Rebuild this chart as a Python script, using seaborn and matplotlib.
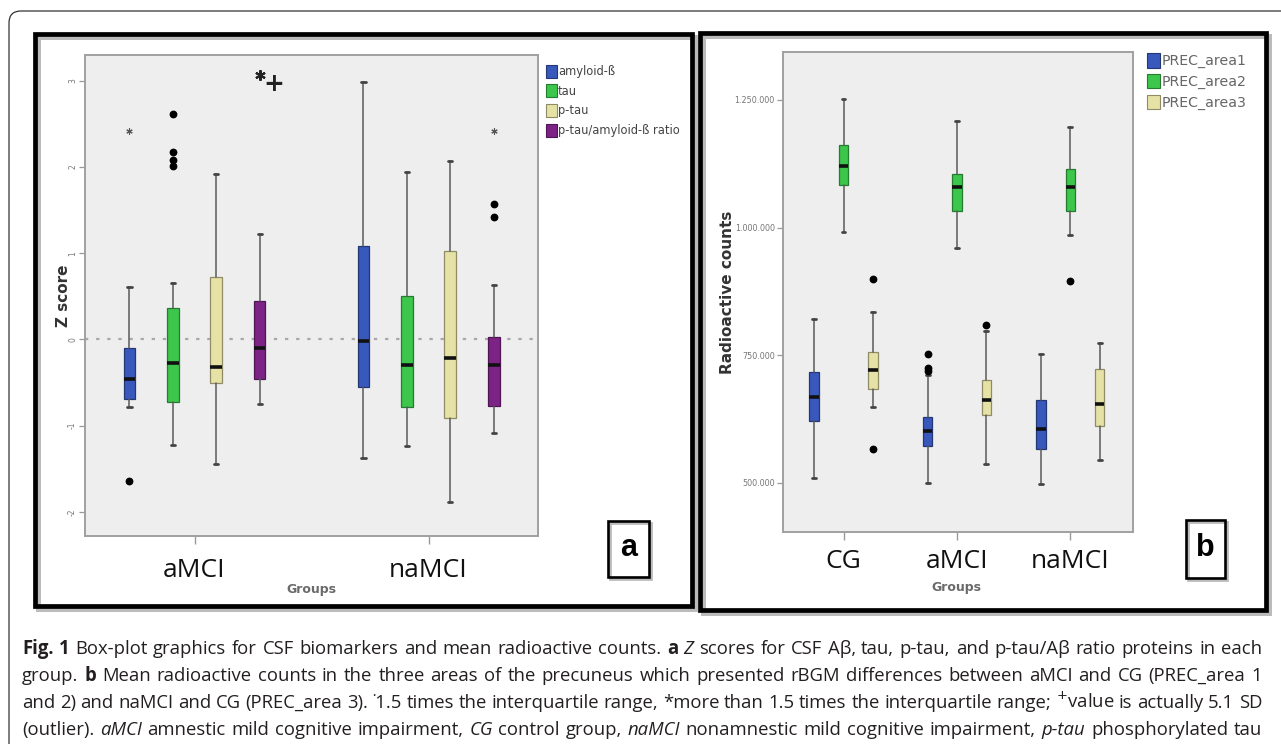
import re
import matplotlib
matplotlib.use("Agg")
import matplotlib.pyplot as plt
from matplotlib.patches import Rectangle, FancyBboxPatch
import matplotlib.colors as mcolors
import seaborn as sns

# ---------------- data : panel a (Z scores) ----------------
groups_a = ["aMCI", "naMCI"]
series_a = ["amyloid-ß", "tau", "p-tau", "p-tau/amyloid-ß ratio"]
# (lower whisker, Q1, median, Q3, upper whisker) for aMCI, naMCI
amyloid_box = [(-0.78, -0.69, -0.46, -0.10, 0.61), (-1.37, -0.55, -0.02, 1.08, 2.99)]
tau_box = [(-1.22, -0.72, -0.27, 0.37, 0.65), (-1.24, -0.78, -0.30, 0.50, 1.94)]
ptau_box = [(-1.44, -0.51, -0.32, 0.72, 1.92), (-1.89, -0.91, -0.21, 1.03, 2.07)]
ratio_box = [(-0.75, -0.46, -0.10, 0.45, 1.22), (-1.09, -0.77, -0.30, 0.03, 0.63)]
# outliers (circles)
amyloid_out = [[-1.64], []]
tau_out = [[2.62, 2.17, 2.08, 2.01], []]
ptau_out = [[], []]
ratio_out = [[], [1.57, 1.42]]
# extreme values (asterisks)
amyloid_ext = [[2.42], []]
tau_ext = [[], []]
ptau_ext = [[], []]
ratio_ext = [[], [2.42]]
# aMCI ratio extreme value drawn at the top edge (actually 5.1 SD)
ratio_clipped = [3.07, None]
yticks_a = [-2, -1, 0, 1, 2, 3]
yticklabels_a = ["-2", "-1", "0", "1", "2", "3"]

# ---------------- data : panel b (radioactive counts) ----------------
groups_b = ["CG", "aMCI", "naMCI"]
series_b = ["PREC_area1", "PREC_area2", "PREC_area3"]
area1_box = [(508600, 621500, 668500, 716400, 820800),
             (498800, 572500, 601300, 629300, 712000),
             (496900, 566000, 605200, 662100, 752200)]
area2_box = [(990700, 1084000, 1121200, 1161800, 1252000),
             (959400, 1033100, 1078900, 1105000, 1209400),
             (985400, 1033100, 1080100, 1114200, 1197700)]
area3_box = [(647800, 683000, 720300, 755600, 834000),
             (536600, 632700, 662100, 701300, 797000),
             (544500, 611100, 653600, 722300, 774400)]
area1_out = [[], [751600, 725400, 719500], []]
area2_out = [[], [], [895900]]
area3_out = [[898600, 566000], [809000], []]
yticks_b = [500000, 750000, 1000000, 1250000]
yticklabels_b = ["500.000", "750.000", "1.000.000", "1.250.000"]

colors_a = ["#3858BC", "#3CC64B", "#E6E1A4", "#7D2386"]
colors_b = ["#3858BC", "#3CC64B", "#E6E1A4"]

caption_lines = [
    "{b:Fig. 1} Box-plot graphics for CSF biomarkers and mean radioactive counts. {b:a} {i:Z} scores for CSF Aβ, tau, p-tau, and p-tau/Aβ ratio proteins in each",
    "group. {b:b} Mean radioactive counts in the three areas of the precuneus which presented rBGM differences between aMCI and CG (PREC_area 1",
    "and 2) and naMCI and CG (PREC_area 3). ˙1.5 times the interquartile range, *more than 1.5 times the interquartile range; $^{+}$value is actually 5.1 SD",
    "(outlier). {i:aMCI} amnestic mild cognitive impairment, {i:CG} control group, {i:naMCI} nonamnestic mild cognitive impairment, {i:p-tau} phosphorylated tau",
]

# ---------------- figure ----------------
sns.set_theme(style="white")
plt.rcParams["font.family"] = ["DejaVu Sans"]
plt.rcParams["mathtext.fontset"] = "dejavusans"
W, H = 1281, 744
fig = plt.figure(figsize=(W / 100, H / 100), dpi=100)
fig.patch.set_facecolor("white")
T = fig.dpi_scale_trans


def dark(c, f=0.62):
    r, g, b = mcolors.to_rgb(c)
    return (r * f, g * f, b * f)


def px_rect(x0, y0, x1, y1, **kw):
    return Rectangle((x0 / 100, (H - y1) / 100), (x1 - x0) / 100, (y1 - y0) / 100,
                     transform=T, **kw)


def draw_boxes(ax, boxes, outs, exts, positions, color, width, capw):
    stats = []
    for b, o in zip(boxes, outs):
        stats.append(dict(whislo=b[0], q1=b[1], med=b[2], q3=b[3], whishi=b[4], fliers=o))
    ax.bxp(stats, positions=positions, widths=width, capwidths=capw,
           patch_artist=True, showfliers=True, manage_ticks=False,
           boxprops=dict(facecolor=color, edgecolor=dark(color), linewidth=0.9),
           medianprops=dict(color="#111111", linewidth=2.6, solid_capstyle="butt"),
           whiskerprops=dict(color="#5A5A5A", linewidth=1.1),
           capprops=dict(color="#444444", linewidth=2.0),
           flierprops=dict(marker="o", markerfacecolor="black", markeredgecolor="black",
                           markersize=4.6))
    for p, e in zip(positions, exts):
        if e:
            ax.plot([p] * len(e), e, linestyle="none", marker=(6, 2, 0), markersize=4.5,
                    color="#555555", mew=0.8, zorder=4)


def style_axes(ax):
    ax.set_facecolor("#EEEEEE")
    for s in ax.spines.values():
        s.set_color("#A0A0A0")
        s.set_linewidth(1.4)


# ---------- panel a ----------
ax_a = fig.add_axes([85 / W, 1 - 536 / H, (538.3 - 85) / W, (536 - 55) / H])
style_axes(ax_a)
sp_a = 0.1855
offs_a = [-1.5, -0.5, 0.5, 1.5]
boxes_a = [amyloid_box, tau_box, ptau_box, ratio_box]
outs_a = [amyloid_out, tau_out, ptau_out, ratio_out]
exts_a = [amyloid_ext, tau_ext, ptau_ext, ratio_ext]
ax_a.axhline(0, color="#A8A8A8", lw=1.6, ls=(0, (1.5, 3.5)), zorder=1)
for i in range(4):
    pos = [g + offs_a[i] * sp_a for g in range(len(groups_a))]
    draw_boxes(ax_a, boxes_a[i], outs_a[i], exts_a[i], pos, colors_a[i], 0.05, 0.018)
# clipped extreme value marker with "+"
for g, v in enumerate(ratio_clipped):
    if v is not None:
        xp = g + offs_a[3] * sp_a
        ax_a.plot([xp], [v], marker=(6, 2, 0), markersize=7.5, color="#222222", mew=1.5,
                  linestyle="none", zorder=5)
        ax_a.annotate("+", xy=(xp, v), xytext=(10, -6.5), textcoords="offset points",
                      ha="center", va="center", fontsize=18, fontweight="bold",
                      color="#222222", zorder=5)
ax_a.set_xlim(-0.468, 1.469)
ax_a.set_ylim(-2.28, 3.30)
ax_a.set_yticks(yticks_a)
ax_a.set_yticklabels(yticklabels_a, rotation=90, va="center", fontsize=5.5, color="#777777")
ax_a.set_xticks(range(len(groups_a)))
ax_a.set_xticklabels(groups_a, family=["Open Sans", "DejaVu Sans"], fontsize=19, color="#111111")
ax_a.tick_params(axis="y", length=4.5, width=0.9, color="#999999", pad=1.2, left=True)
ax_a.tick_params(axis="x", length=6, width=1.0, color="#999999", pad=10, bottom=True)
hand_a = [Rectangle((0, 0), 1, 1, fc=c, ec=dark(c), lw=0.8) for c in colors_a]
ax_a.legend(hand_a, series_a, loc="upper left", bbox_to_anchor=(1.017, 0.98), frameon=False,
            borderpad=0, borderaxespad=0, handlelength=0.95, handleheight=1.35,
            handletextpad=0.1, labelspacing=0.55, prop=dict(size=8.3), labelcolor="#444444")

# ---------- panel b ----------
ax_b = fig.add_axes([782.5 / W, 1 - 532 / H, 350.6 / W, 480 / H])
style_axes(ax_b)
sp_b = 0.259
offs_b = [-1, 0, 1]
boxes_b = [area1_box, area2_box, area3_box]
outs_b = [area1_out, area2_out, area3_out]
for i in range(3):
    pos = [g + offs_b[i] * sp_b for g in range(len(groups_b))]
    draw_boxes(ax_b, boxes_b[i], outs_b[i], [[] for _ in groups_b], pos, colors_b[i], 0.082, 0.035)
ax_b.set_xlim(-0.538, 2.554)
ax_b.set_ylim(403400, 1344000)
ax_b.set_yticks(yticks_b)
ax_b.set_yticklabels(yticklabels_b, fontsize=5.8, color="#777777")
ax_b.set_xticks(range(len(groups_b)))
ax_b.set_xticklabels(groups_b, family=["Open Sans", "DejaVu Sans"], fontsize=19, color="#111111")
ax_b.tick_params(axis="y", length=4, width=0.9, color="#999999", pad=1.5, left=True)
ax_b.tick_params(axis="x", length=6, width=1.0, color="#999999", pad=6, bottom=True)
hand_b = [Rectangle((0, 0), 1, 1, fc=c, ec=dark(c), lw=0.8) for c in colors_b]
ax_b.legend(hand_b, series_b, loc="upper left", bbox_to_anchor=(1.04, 0.997), frameon=False,
            borderpad=0, borderaxespad=0, handlelength=0.9, handleheight=1.15,
            handletextpad=0.15, labelspacing=0.42, prop=dict(size=10.2), labelcolor="#666666")

# ---------- axis titles ----------
fig.text(64 / W, 1 - 296 / H, "Z score", rotation=90, ha="center", va="center",
         fontsize=11, fontweight="bold", color="#333333")
fig.text(728 / W, 1 - 292 / H, "Radioactive counts", rotation=90, ha="center", va="center",
         fontsize=11, fontweight="bold", color="#333333")
fig.text(311 / W, 1 - 589 / H, "Groups", ha="center", va="center", fontsize=9,
         fontweight="bold", color="#6A6A6A")
fig.text(956 / W, 1 - 587 / H, "Groups", ha="center", va="center", fontsize=9,
         fontweight="bold", color="#6A6A6A")

# ---------- frames ----------
fig.add_artist(FancyBboxPatch((9 / 100, (H - 780) / 100), 13.2, (780 - 11) / 100,
                              boxstyle="round,pad=0,rounding_size=0.12", transform=T,
                              fill=False, ec="#333333", lw=0.9))
for (x0, y0, x1, y1) in [(34.5, 34, 692, 606), (699.5, 33, 1265.5, 610)]:
    fig.add_artist(px_rect(x0 + 3, y0 + 3, x1 + 3, y1 + 3, fill=False, ec="#BBBBBB", lw=3.6,
                           zorder=1))
    fig.add_artist(px_rect(x0, y0, x1, y1, fill=False, ec="black", lw=3.4, zorder=2))
for (x0, y0, x1, y1, lab) in [(607.7, 521, 648.9, 577, "a"), (1185.7, 520, 1225.2, 578, "b")]:
    fig.add_artist(px_rect(x0 + 2, y0 + 2, x1 + 2, y1 + 2, fill=False, ec="#BBBBBB", lw=2.0,
                           zorder=1))
    fig.add_artist(px_rect(x0, y0, x1, y1, fill=False, ec="black", lw=1.9, zorder=2))
    fig.text((x0 + x1) / 2 / W, 1 - ((y0 + y1) / 2 - 1) / H, lab, ha="center", va="center",
             fontsize=22, fontweight="bold", family=["Liberation Sans", "DejaVu Sans"],
             color="black")

# ---------- caption (justified) ----------
cap_font = ["Open Sans", "DejaVu Sans"]
cap_x0, cap_x1 = 22, 1262
cap_base = [654, 681, 708, 735]
renderer = fig.canvas.get_renderer()


def parse(line):
    words, pos = [], 0
    for m in re.finditer(r"\{([bi]):([^}]*)\}", line):
        words += [(w, "n") for w in line[pos:m.start()].split()]
        words += [(w, m.group(1)) for w in m.group(2).split()]
        pos = m.end()
    words += [(w, "n") for w in line[pos:].split()]
    return words


def make_words(words, size):
    arts = []
    for w, st in words:
        t = fig.text(0, 0, w, transform=T, fontsize=size, family=cap_font,
                     fontweight="bold" if st == "b" else "normal",
                     fontstyle="italic" if st == "i" else "normal",
                     ha="left", va="baseline", color="#231F20")
        arts.append(t)
    return arts


parsed = [parse(l) for l in caption_lines]
s0 = 12.0
sizes = []
for words in parsed:
    arts = make_words(words, s0)
    wsum = sum(a.get_window_extent(renderer).width for a in arts)
    for a in arts:
        a.remove()
    n = len(words) - 1
    sizes.append((cap_x1 - cap_x0) / (wsum / s0 + n * 0.26 * 100 / 72))
cap_size = min(sizes)
for words, by in zip(parsed, cap_base):
    arts = make_words(words, cap_size)
    ws = [a.get_window_extent(renderer).width for a in arts]
    gap = (cap_x1 - cap_x0 - sum(ws)) / (len(arts) - 1)
    x = cap_x0
    for a, w in zip(arts, ws):
        a.set_position((x / 100, (H - by) / 100))
        x += w + gap

fig.savefig("out.png", dpi=100)
